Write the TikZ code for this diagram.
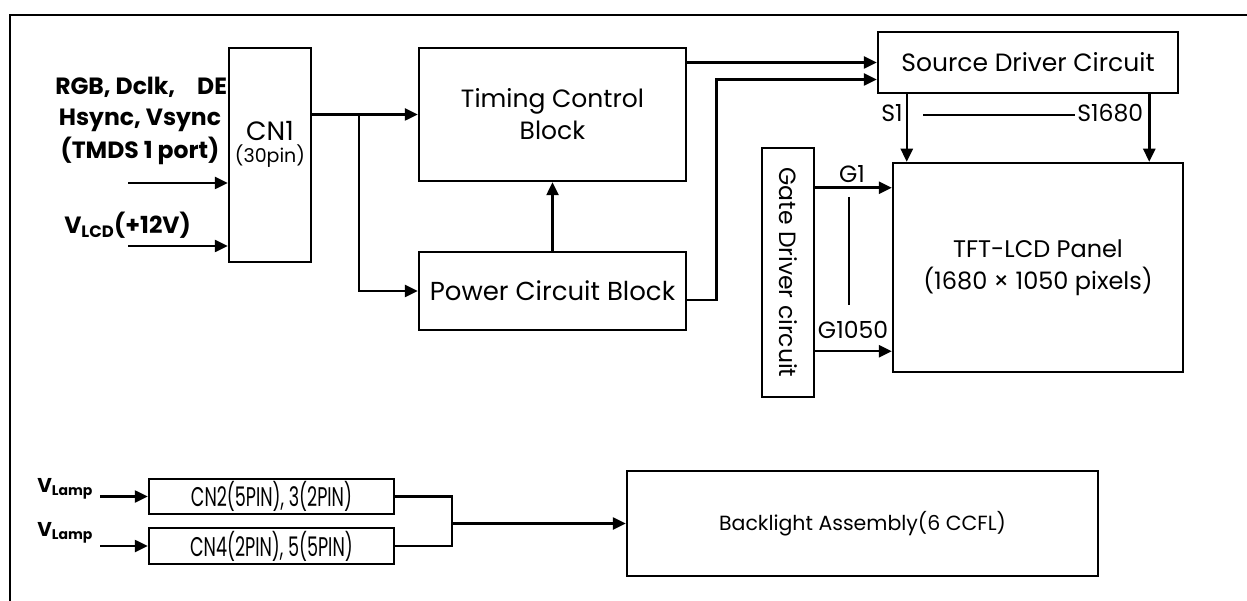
\documentclass[tikz,border=0pt]{standalone}
\usepackage{fontspec,graphicx}
\setmainfont{Poppins}
\usetikzlibrary{arrows.meta,calc,positioning}

\begin{document}
\begin{tikzpicture}[x=1pt,y=-1pt,>={Triangle[length=13pt,width=12pt]},line width=2.5pt,
  blk/.style={draw,fill=white,inner sep=0pt,align=center,font=\fontsize{25}{32}\selectfont},
  lbl/.style={inner sep=1pt,font=\fontsize{23.5}{26}\selectfont},
  sig/.style={inner sep=0pt,align=center,font=\bfseries\fontsize{23.5}{33}\selectfont}]
\useasboundingbox (0,0) rectangle (1247,601);
% frame
\draw (10,601) -- (10,15) -- (1247,15);
% inputs of CN1 (the box hides the end of the first line)
\node[sig,anchor=west] (video) at (54,87) {RGB, Dclk,\hspace{22pt}DE};
\node[sig] (sync) at (140,137) {Hsync, Vsync\\(TMDS 1 port)};
\node[sig,anchor=west] (vlcd) at (63,225) {V\textsubscript{LCD}(+12V)};
\node[blk,minimum width=82pt,minimum height=214pt] (cn1) at (270,155) {};
\node[inner sep=0pt,align=center,font=\fontsize{26.5}{32}\selectfont] (cn1txt) at (270,144)
  {CN1\\[-10pt]{\fontsize{19}{22}\selectfont(30pin)}};
\coordinate (in1) at (128,183);
\coordinate (in2) at (128,246);
\draw[->] (in1) -- (in1 -| cn1.west);
\draw[->] (in2) -- (in2 -| cn1.west);
% blocks
\node[blk,minimum width=267pt,minimum height=133pt] (tcon) at (552.5,114.5) {Timing Control\\Block};
\node[blk,minimum width=267pt,minimum height=78pt,font=\fontsize{26}{32}\selectfont] (power) at (552.5,291) {Power Circuit Block};
\node[blk,minimum width=300pt,minimum height=61pt] (source) at (1028,62.5) {Source Driver Circuit};
\node[blk,minimum width=290pt,minimum height=209pt,font=\fontsize{24}{32}\selectfont] (panel) at (1038,267.5) {TFT-LCD Panel\\(1680 × 1050 pixels)};
\node[blk,minimum width=52pt,minimum height=249pt] (gate) at (788,272.5) {};
\node[rotate=-90,inner sep=0pt,font=\fontsize{23.5}{26}\selectfont] (gatetxt) at (gate) {Gate Driver circuit};
% CN1 -> timing and power
\draw[->] (cn1.east |- tcon.west) -- (tcon.west);
\coordinate (split) at (359,114.5);
\draw[->] (split) |- (power.west);
\draw[->] (power.north) -- (tcon.south);
% to source driver
\draw[->] (tcon.east |- source.west) -- (source.west);
\draw[->] ([yshift=-9pt]power.east) -- ++(29,0) |- ([yshift=-17pt]source.west);
% source lines
\draw[->] ([xshift=30pt]source.south west) coordinate (s1) -- (s1 |- panel.north);
\draw[->] ([xshift=-30pt]source.south east) coordinate (sn) -- (sn |- panel.north);
\node[lbl,anchor=east] (s1lbl) at (905,113) {S1};
\node[lbl,anchor=west] (snlbl) at (1075,113) {S1680};
\coordinate (sdash) at (923,115);
\draw (sdash) -- (sdash -| snlbl.west);
% gate lines
\draw[->] ([yshift=-41pt]gate.north east) coordinate (g1) -- (g1 -| panel.west);
\draw[->] ([yshift=47pt]gate.south east) coordinate (gn) -- (gn -| panel.west);
\node[lbl] (g1lbl) at (852,174) {G1};
\node[lbl] (gnlbl) at (853,330) {G1050};
\coordinate (gtop) at (849,197);
\coordinate (gbot) at (849,305);
\draw (gtop) -- (gbot);
% backlight part
\node[sig,anchor=west,font=\bfseries\fontsize{20}{24}\selectfont] (vl1) at (36,489) {V\textsubscript{Lamp}};
\node[sig,anchor=west,font=\bfseries\fontsize{20}{24}\selectfont] (vl2) at (36,533) {V\textsubscript{Lamp}};
\node[blk,minimum width=245pt,minimum height=35pt,font=\fontsize{27}{30}\selectfont] (cn2) at (271.5,496.5) {\scalebox{0.65}[1]{CN2(5PIN), 3(2PIN)}};
\node[blk,minimum width=245pt,minimum height=36pt,font=\fontsize{27}{30}\selectfont] (cn4) at (271.5,546) {\scalebox{0.65}[1]{CN4(2PIN), 5(5PIN)}};
\node[blk,minimum width=471pt,minimum height=105pt,font=\fontsize{20.5}{24}\selectfont] (bl) at (862.5,523.5) {Backlight Assembly(6 CCFL)};
\coordinate (l1) at (100,496.5);
\coordinate (l2) at (100,546);
\draw[->] (l1) -- (cn2.west);
\draw[->] (l2) -- (cn4.west);
\coordinate (merge) at (452,523.5);
\draw (cn2.east) -| (merge);
\draw (cn4.east) -| (merge);
\draw[->] (merge) -- (bl.west);
\end{tikzpicture}
\end{document}
